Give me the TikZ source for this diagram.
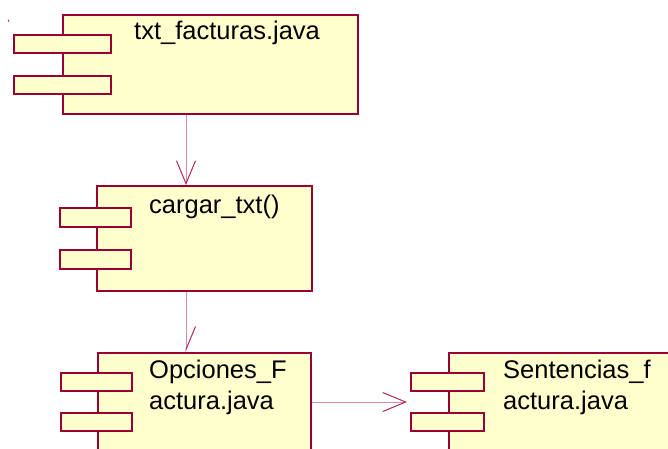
\documentclass[tikz,border=0pt]{standalone}
\usepackage{fontspec}
\setmainfont{Liberation Sans}
\usetikzlibrary{arrows.meta}
\definecolor{boxc}{RGB}{153,0,51}
\definecolor{fillc}{RGB}{255,255,206}
\definecolor{connc}{RGB}{214,140,172}
\definecolor{tipc}{RGB}{176,40,88}
\tikzset{
  comp/.style={draw=boxc, fill=fillc, line width=1.6pt, rectangle, inner sep=0pt, anchor=north west},
  tabbox/.style={draw=boxc, fill=fillc, line width=1.6pt, rectangle, inner sep=0pt, anchor=north west},
  lbl/.style={font=\fontsize{25.5}{31.5}\selectfont, inner sep=0pt, anchor=base west, align=left, text=black},
  conn/.style={draw=connc, line width=1pt},
  opentip/.style={-{Straight Barb[length=23pt, width=19pt, color=tipc, line width=1pt]}},
  halftip/.style={-{Straight Barb[left, length=23pt, width=19pt, color=tipc, line width=1pt]}}
}
\begin{document}
\begin{tikzpicture}[x=1pt, y=-1pt]
\useasboundingbox (0,0) rectangle (668,448);
\clip (0,0) rectangle (668,448);
\fill[white] (0,0) rectangle (668,448);
% stray mark
\draw[draw=tipc, line width=0.8pt] (8,19.5) -- (9,22);
% component 1
\node[comp, minimum width=295pt, minimum height=99pt] (c1) at (62,14) {};
\node[tabbox, minimum width=97pt, minimum height=18pt] (t1a) at (13,34) {};
\node[tabbox, minimum width=97pt, minimum height=18pt] (t1b) at (13,75) {};
\node[lbl] (l1) at (134,39.5) {txt\_facturas.java};
% component 2
\node[comp, minimum width=215pt, minimum height=105pt] (c2) at (96,185) {};
\node[tabbox, minimum width=71pt, minimum height=19pt] (t2a) at (59,207) {};
\node[tabbox, minimum width=71pt, minimum height=19pt] (t2b) at (59,249) {};
\node[lbl] (l2) at (149,213) {cargar\_txt()};
% component 3
\node[comp, minimum width=213pt, minimum height=130pt] (c3) at (97,352) {};
\node[tabbox, minimum width=71pt, minimum height=18pt] (t3a) at (60,372) {};
\node[tabbox, minimum width=71pt, minimum height=18pt] (t3b) at (60,412) {};
\node[lbl] (l3) at (149,409.5) {Opciones\_F\\actura.java};
% component 4
\node[comp, minimum width=260pt, minimum height=130pt] (c4) at (448,352) {};
\node[tabbox, minimum width=73pt, minimum height=18pt] (t4a) at (410,372) {};
\node[tabbox, minimum width=73pt, minimum height=18pt] (t4b) at (410,412) {};
\node[lbl] (l4) at (503,409.5) {Sentencias\_f\\actura.java};
% connectors
\draw[conn, opentip] (c1.south -| 186,0) -- (c2.north -| 186,0);
\draw[conn, halftip] (c2.south -| 186,0) -- (c3.north -| 186,0);
\draw[conn, opentip, shorten >=3pt] (c3.east |- 0,402) -- (t4a.west |- 0,402);
\end{tikzpicture}
\end{document}
